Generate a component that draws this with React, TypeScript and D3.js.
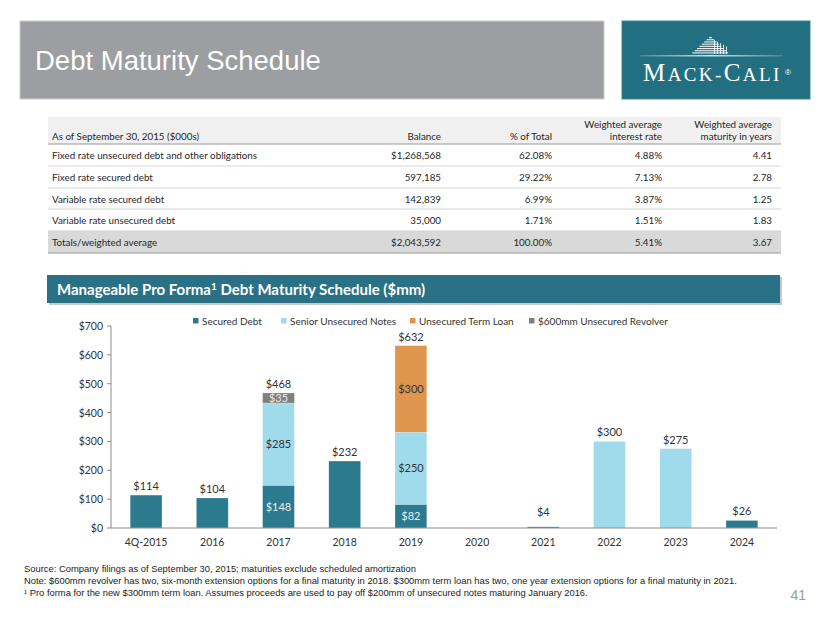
import React from "react";
import * as d3 from "d3";

// ---------- Data ----------
const categories = ["4Q-2015", "2016", "2017", "2018", "2019", "2020", "2021", "2022", "2023", "2024"];
const securedDebt = [114, 104, 148, 232, 82, 0, 4, 0, 0, 26];
const seniorNotes = [0, 0, 285, 0, 250, 0, 0, 300, 275, 0];
const termLoan = [0, 0, 0, 0, 300, 0, 0, 0, 0, 0];
const revolver = [0, 0, 35, 0, 0, 0, 0, 0, 0, 0];
const seriesNames = ["Secured Debt", "Senior Unsecured Notes", "Unsecured Term Loan", "$600mm Unsecured Revolver"];
const seriesKeys = ["secured", "senior", "term", "revolver"];
const yTicks = [0, 100, 200, 300, 400, 500, 600, 700];

const tableRowLabels = [
  "Fixed rate unsecured debt and other obligations",
  "Fixed rate secured debt",
  "Variable rate secured debt",
  "Variable rate unsecured debt",
  "Totals/weighted average",
];
const tableBalance = ["$1,268,568", "597,185", "142,839", "35,000", "$2,043,592"];
const tablePct = ["62.08%", "29.22%", "6.99%", "1.71%", "100.00%"];
const tableRate = ["4.88%", "7.13%", "3.87%", "1.51%", "5.41%"];
const tableMaturity = ["4.41", "2.78", "1.25", "1.83", "3.67"];

const footnotes = [
  "Source: Company filings as of September 30, 2015; maturities exclude scheduled amortization",
  "Note: $600mm revolver has two, six-month extension options for a final maturity in 2018. $300mm term loan has two, one year extension options for a final maturity in 2021.",
  "\u00B9 Pro forma for the new $300mm term loan. Assumes proceeds are used to pay off $200mm of unsecured notes maturing January 2016.",
];

// ---------- Styles ----------
const COLORS = ["#2b7a8e", "#a0dbec", "#e0954f", "#808080"];
const INNER_TEXT = ["#e6f1f5", "#333333", "#333333", "#e8e8e8"];
const FONT = "Lato, 'Noto Sans', sans-serif";
const ARIAL = "'Liberation Sans', Arial, sans-serif";
const SERIF = "'Liberation Serif', 'DejaVu Serif', serif";

export default function App() {
  const W = 830;
  const H = 623;

  // chart geometry
  const x0 = 111, x1 = 777, yTop = 326, yBot = 528;
  const x = d3.scaleBand<string>().domain(categories).range([x0, x1]).paddingInner(0.52).paddingOuter(0.29);
  const y = d3.scaleLinear().domain([0, 700]).range([yBot, yTop]);

  const rows = categories.map((c, i) => ({
    cat: c,
    secured: securedDebt[i],
    senior: seniorNotes[i],
    term: termLoan[i],
    revolver: revolver[i],
  }));
  const stack = d3.stack<any>().keys(seriesKeys);
  const stacked = stack(rows);
  const totals = rows.map((r) => r.secured + r.senior + r.term + r.revolver);
  const segCount = rows.map((r) => seriesKeys.filter((k) => (r as any)[k] > 0).length);

  // table geometry
  const tL = 48, tR = 781;
  const colRight = [441, 552, 662, 772];
  const rowTop = [144, 166, 188, 209, 231];
  const rowBottom = [166, 188, 209, 231, 253];
  const tableCols = [tableBalance, tablePct, tableRate, tableMaturity];

  // legend positions
  const legendX = [193, 281, 410, 529];

  // logo building stripes
  const stripes = d3.range(0, 8);

  return (
    <div style={{ position: "absolute", left: 0, top: 0 }}>
      <svg width={W} height={H} viewBox={`0 0 ${W} ${H}`} style={{ display: "block", background: "#fff" }}>
        <defs>
          <linearGradient id="logoLine" x1="0" x2="1" y1="0" y2="0">
            <stop offset="0" stopColor="#ffffff" stopOpacity={0.2} />
            <stop offset="0.5" stopColor="#ffffff" stopOpacity={1} />
            <stop offset="1" stopColor="#ffffff" stopOpacity={0.2} />
          </linearGradient>
        </defs>

        {/* Header band */}
        <rect x={20} y={21} width={584} height={78} fill="#9c9ea1" stroke="#c9cacc" strokeWidth={1} />
        <text x={35} y={70} fill="#ffffff" fontFamily={ARIAL} fontSize={27.5}>
          Debt Maturity Schedule
        </text>

        {/* Logo */}
        <rect x={622} y={21} width={188} height={78} fill="#236f82" stroke="#3a8596" strokeWidth={1} />
        <g fill="#ffffff">
          {stripes.map((i) => {
            const yy = 37 + i * 2.2;
            const left = 709 - i * 2.4;
            const right = 712 + i * 2.3;
            return <rect key={i} x={left} y={yy} width={right - left} height={1.1} opacity={0.9} />;
          })}
          {d3.range(0, 5).map((i) => (
            <rect key={"v" + i} x={714 + i * 3} y={40 + i * 1.6} width={1} height={14 - i * 1.6} opacity={0.8} />
          ))}
        </g>
        <rect x={640} y={55.2} width={143} height={1.2} fill="url(#logoLine)" />
        <text x={643} y={81} fill="#ffffff" fontFamily={SERIF} fontSize={19} letterSpacing={2.4}>
          <tspan fontSize={25}>M</tspan>ACK-<tspan fontSize={25}>C</tspan>ALI
        </text>
        <text x={785} y={75} fill="#ffffff" fontFamily={ARIAL} fontSize={8}>
          ®
        </text>

        {/* Table */}
        <rect x={tL} y={117} width={tR - tL} height={27} fill="#f0f0f0" />
        <rect x={tL} y={231} width={tR - tL} height={22} fill="#d9d9d9" />
        <line x1={tL} x2={tR} y1={144} y2={144} stroke="#9a9a9a" strokeWidth={1.2} />
        {rowBottom.map((b, i) => (
          <line key={i} x1={tL} x2={tR} y1={b} y2={b} stroke={i === 4 ? "#9a9a9a" : "#d4d4d4"} strokeWidth={i === 4 ? 1.2 : 1} />
        ))}
        <g fontFamily={FONT} fontSize={9.8} fill="#262626">
          <text x={52} y={140}>As of September 30, 2015 ($000s)</text>
          <text x={colRight[0]} y={140} textAnchor="end">Balance</text>
          <text x={colRight[1]} y={140} textAnchor="end">% of Total</text>
          <text x={colRight[2]} y={128} textAnchor="end">Weighted average</text>
          <text x={colRight[2]} y={140} textAnchor="end">interest rate</text>
          <text x={colRight[3]} y={128} textAnchor="end">Weighted average</text>
          <text x={colRight[3]} y={140} textAnchor="end">maturity in years</text>
          {tableRowLabels.map((lab, i) => {
            const cy = (rowTop[i] + rowBottom[i]) / 2 + 4;
            return (
              <g key={i}>
                <text x={52} y={cy}>{lab}</text>
                {tableCols.map((col, j) => (
                  <text key={j} x={colRight[j]} y={cy} textAnchor="end">{col[i]}</text>
                ))}
              </g>
            );
          })}
        </g>

        {/* Chart title band */}
        <rect x={49} y={277} width={733} height={28} fill="#c8c8c8" />
        <rect x={47} y={275} width={733} height={28} fill="#2b7185" />
        <text x={57} y={294.5} fill="#ffffff" fontFamily={FONT} fontWeight={700} fontSize={15}>
          Manageable Pro Forma<tspan fontSize={10} dy={-5}>1</tspan><tspan dy={5}> Debt Maturity Schedule ($mm)</tspan>
        </text>

        {/* Legend */}
        <g fontFamily={FONT} fontSize={10} fill="#333">
          {seriesNames.map((n, i) => (
            <g key={n}>
              <rect x={legendX[i]} y={318} width={5.5} height={5.5} fill={COLORS[i]} />
              <text x={legendX[i] + 9} y={324.5}>{n}</text>
            </g>
          ))}
        </g>

        {/* Y axis */}
        <line x1={x0} x2={x0} y1={yTop} y2={yBot} stroke="#8c8c8c" />
        {yTicks.map((t) => (
          <g key={t}>
            <line x1={x0 - 4} x2={x0} y1={y(t)} y2={y(t)} stroke="#8c8c8c" />
            <text x={103} y={y(t) + 4} textAnchor="end" fontFamily={FONT} fontSize={10.5} fill="#333">
              {d3.format("$,")(t)}
            </text>
          </g>
        ))}

        {/* Bars */}
        {stacked.map((s, si) => (
          <g key={s.key}>
            {s.map((d, i) => {
              const v = d[1] - d[0];
              if (v <= 0) return null;
              return (
                <rect key={i} x={x(categories[i])} width={x.bandwidth()} y={y(d[1])} height={Math.max(0.8, y(d[0]) - y(d[1]))} fill={COLORS[si]} stroke="#ffffff" strokeOpacity={0.4} strokeWidth={0.5} />
              );
            })}
          </g>
        ))}

        {/* Inner segment labels */}
        {stacked.map((s, si) => (
          <g key={"l" + s.key}>
            {s.map((d, i) => {
              const v = d[1] - d[0];
              if (v <= 0 || segCount[i] < 2) return null;
              return (
                <text key={i} x={(x(categories[i]) as number) + x.bandwidth() / 2} y={(y(d[0]) + y(d[1])) / 2 + 4} textAnchor="middle" fontFamily={FONT} fontSize={11} fill={INNER_TEXT[si]}>
                  {d3.format("$,")(v)}
                </text>
              );
            })}
          </g>
        ))}

        {/* Total labels */}
        {totals.map((t, i) =>
          t > 0 ? (
            <text key={i} x={(x(categories[i]) as number) + x.bandwidth() / 2} y={Math.min(y(t), yBot - 7) - 5} textAnchor="middle" fontFamily={FONT} fontSize={11} fill="#333">
              {d3.format("$,")(t)}
            </text>
          ) : null
        )}

        {/* X axis */}
        <line x1={x0} x2={x1} y1={yBot} y2={yBot} stroke="#8c8c8c" strokeWidth={1.2} />
        {categories.map((c) => (
          <text key={c} x={(x(c) as number) + x.bandwidth() / 2} y={546} textAnchor="middle" fontFamily={FONT} fontSize={10.5} fill="#333">
            {c}
          </text>
        ))}

        {/* Footnotes */}
        <g fontFamily={ARIAL} fontSize={9.4} fill="#222">
          {footnotes.map((f, i) => (
            <text key={i} x={24} y={572 + i * 11.8}>{f}</text>
          ))}
        </g>
        <text x={806} y={600} textAnchor="end" fontFamily={ARIAL} fontSize={14} fill="#9a9a9a">
          41
        </text>
      </svg>
    </div>
  );
}
